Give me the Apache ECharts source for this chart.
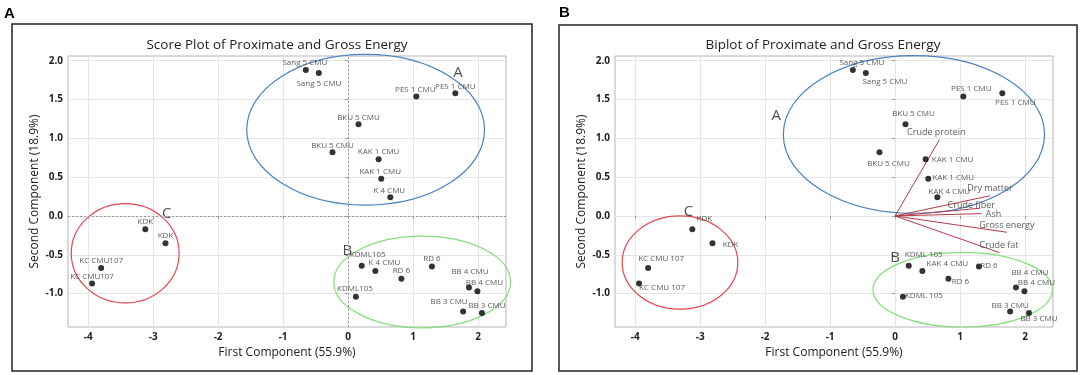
<!DOCTYPE html>
<html>
<head>
<meta charset="utf-8">
<script src="https://cdn.jsdelivr.net/npm/echarts@6/dist/echarts.min.js"></script>
<style>
  html, body { margin: 0; padding: 0; background: #fff; }
  #main { width: 1084px; height: 375px; }
</style>
</head>
<body>
<div id="main"></div>
<script>
// sample scores (same for both panels), names differ a little between A and B
var namesA = ['Sang 5 CMU', 'Sang 5 CMU', 'PES 1 CMU', 'PES 1 CMU', 'BKU 5 CMU', 'BKU 5 CMU', 'KAK 1 CMU', 'KAK 1 CMU', 'K 4 CMU',
    'KDK', 'KDK', 'KC CMU107', 'KC CMU107', 'KDML105', 'K 4 CMU', 'RD 6', 'RD 6', 'KDML105', 'BB 4 CMU', 'BB 4 CMU', 'BB 3 CMU', 'BB 3 CMU'];
var namesB = ['Sang 5 CMU', 'Sang 5 CMU', 'PES 1 CMU', 'PES 1 CMU', 'BKU 5 CMU', 'BKU 5 CMU', 'KAK 1 CMU', 'KAK 1 CMU', 'KAK 4 CMU',
    'KDK', 'KDK', 'KC CMU 107', 'KC CMU 107', 'KDML 105', 'KAK 4 CMU', 'RD 6', 'RD 6', 'KDML 105', 'BB 4 CMU', 'BB 4 CMU', 'BB 3 CMU', 'BB 3 CMU'];
var firstComp = [-0.65, -0.45, 1.05, 1.65, 0.16, -0.24, 0.47, 0.51, 0.65, -3.12, -2.81, -3.80, -3.94, 0.21, 0.42, 0.82, 1.29, 0.12, 1.86, 1.99, 1.77, 2.06];
var secondComp = [1.88, 1.84, 1.54, 1.58, 1.18, 0.82, 0.73, 0.48, 0.24, -0.17, -0.35, -0.67, -0.87, -0.64, -0.71, -0.81, -0.65, -1.04, -0.92, -0.97, -1.23, -1.25];

// loading vectors of the biplot
var varNames = ['Crude protein', 'Dry matter', 'Crude fiber', 'Ash', 'Gross energy', 'Crude fat'];
var loadX = [0.68, 1.46, 1.31, 1.33, 1.72, 1.60];
var loadY = [0.98, 0.26, 0.10, 0.03, -0.21, -0.47];

// group ellipses (centre and half axes, data units)
var groupNames = ['A', 'B', 'C'];
var ellCxA = [0.27, 1.14, -3.43], ellCyA = [1.11, -0.85, -0.48], ellRxA = [1.83, 1.36, 0.83], ellRyA = [0.97, 0.59, 0.64];
var ellCxB = [0.29, 1.04, -3.31], ellCyB = [1.05, -0.95, -0.60], ellRxB = [2.01, 1.38, 0.89], ellRyB = [1.015, 0.48, 0.60];
var groupXA = [1.69, -0.01, -2.79], groupYA = [1.85, -0.45, 0.03];
var groupXB = [-1.83, 0.0, -3.18], groupYB = [1.29, -0.54, 0.06];

// tick values
var xTicks = [-4, -3, -2, -1, 0, 1, 2];
var yTicks = [-1, -0.5, 0, 0.5, 1, 1.5, 2];

// label offsets in px (style only)
var labelOffA = [[-1, -7], [0, 11], [-1, -7], [0, -7], [0, -7], [0, -7], [0, -8], [-1, -7], [-1, -7], [0, -7], [0, -7], [0, -7], [0, -7],
    [6, -11], [9, -8], [0, -8], [0, -8], [-1, -8], [1, -16], [7, -9], [-14, -10], [5, -7]];
var labelOffB = [[9, -7], [19, 9], [8, -8], [13, 9], [8, -11], [9, 11], [27, 0], [25, -1], [12, -6], [12, -10], [18, 2], [13, -9], [23, 4],
    [15, -11], [25, -7], [12, 3], [10, -1], [21, -1], [14, -15], [12, -9], [0, -6], [10, 6]];
var labelOffVec = [[-3, -7], [0, -7], [-9, -3], [12, 1], [0, -7], [0, -7]];

var ellColors = ['#4a80c4', '#86dd7f', '#e2474d'];
var fontFam = '"Open Sans", "Noto Sans", sans-serif';
var symSize = 6;

function pointData(names, offs) {
    return firstComp.map(function (x, i) {
        return {
            value: [x, secondComp[i]],
            name: names[i],
            label: { position: [symSize / 2 + offs[i][0], symSize / 2 + offs[i][1]] }
        };
    });
}

function ellipseData(cx, cy, rx, ry) {
    return cx.map(function (c, i) { return [c, cy[i], rx[i], ry[i]]; });
}

function renderEllipse(params, api) {
    var c = api.coord([api.value(0), api.value(1)]);
    var s = api.size([api.value(2), api.value(3)]);
    return {
        type: 'ellipse',
        shape: { cx: c[0], cy: c[1], rx: s[0], ry: s[1] },
        style: { fill: null, stroke: ellColors[params.dataIndex], lineWidth: 1.2 },
        silent: true
    };
}

function renderVector(params, api) {
    var o = api.coord([0, 0]);
    var e = api.coord([api.value(0), api.value(1)]);
    return {
        type: 'line',
        shape: { x1: o[0], y1: o[1], x2: e[0], y2: e[1] },
        style: { stroke: '#b23b4a', lineWidth: 1 },
        silent: true
    };
}

function xAxisOf(idx) {
    return {
        gridIndex: idx, type: 'value', min: -4.31, max: 2.43,
        name: 'First Component (55.9%)', nameLocation: 'middle', nameGap: 19,
        nameTextStyle: { fontSize: 12, color: '#222', fontFamily: fontFam },
        axisLine: { show: false },
        axisTick: { show: true, customValues: xTicks, length: 3, lineStyle: { color: '#999' } },
        axisLabel: { customValues: xTicks, fontSize: 10, fontWeight: 'bold', color: '#222', margin: 5, fontFamily: fontFam },
        splitLine: { show: true, lineStyle: { color: '#e6e6e6' } }
    };
}

function yAxisOf(idx) {
    return {
        gridIndex: idx, type: 'value', min: -1.43, max: 2.06,
        name: 'Second Component (18.9%)', nameLocation: 'middle', nameGap: 27,
        nameTextStyle: { fontSize: 12, color: '#222', fontFamily: fontFam },
        axisLine: { show: false },
        axisTick: { show: true, customValues: yTicks, length: 3, lineStyle: { color: '#999' } },
        axisLabel: {
            customValues: yTicks, fontSize: 10, fontWeight: 'bold', color: '#222', margin: 5, fontFamily: fontFam,
            formatter: function (v) { return v.toFixed(1); }
        },
        splitLine: { show: true, lineStyle: { color: '#e6e6e6' } }
    };
}

function letterSeries(idx, gx, gy) {
    return {
        type: 'scatter', xAxisIndex: idx, yAxisIndex: idx, symbolSize: 0, silent: true, z: 4,
        data: gx.map(function (x, i) { return { value: [x, gy[i]], name: groupNames[i] }; }),
        label: { show: true, position: 'inside', formatter: '{b}', fontSize: 15, color: '#222', fontFamily: fontFam }
    };
}

function pointSeries(idx, names, offs, extra) {
    var s = {
        type: 'scatter', xAxisIndex: idx, yAxisIndex: idx, symbol: 'circle', symbolSize: symSize, z: 5,
        itemStyle: { color: '#000' },
        data: pointData(names, offs),
        label: { show: true, formatter: '{b}', align: 'center', verticalAlign: 'middle', fontSize: 8, color: '#333', fontFamily: fontFam }
    };
    if (extra) {
        s.markLine = extra;
    }
    return s;
}

var myChart = echarts.init(document.getElementById('main'));
var option = {
    animation: false,
    backgroundColor: '#fff',
    title: [
        { text: 'Score Plot of Proximate and Gross Energy', left: 272, top: 33, textAlign: 'center',
            textStyle: { fontSize: 13.5, fontWeight: 'normal', color: '#222', fontFamily: fontFam } },
        { text: 'Biplot of Proximate and Gross Energy', left: 818, top: 33, textAlign: 'center',
            textStyle: { fontSize: 13.5, fontWeight: 'normal', color: '#222', fontFamily: fontFam } }
    ],
    graphic: [
        { type: 'rect', shape: { x: 12, y: 24, width: 520, height: 347 }, style: { fill: 'none', stroke: '#222', lineWidth: 1.5 } },
        { type: 'rect', shape: { x: 559, y: 25, width: 518, height: 346 }, style: { fill: 'none', stroke: '#222', lineWidth: 1.5 } },
        { type: 'text', left: 4, top: 6, style: { text: 'A', fontSize: 15, fontWeight: 'bold', fill: '#000', fontFamily: 'Liberation Sans, Arial' } },
        { type: 'text', left: 559, top: 5, style: { text: 'B', fontSize: 15, fontWeight: 'bold', fill: '#000', fontFamily: 'Liberation Sans, Arial' } }
    ],
    grid: [
        { left: 68, top: 56, width: 438, height: 271, show: true, borderColor: '#b5b5b5', borderWidth: 1 },
        { left: 615, top: 56, width: 438, height: 271, show: true, borderColor: '#b5b5b5', borderWidth: 1 }
    ],
    xAxis: [xAxisOf(0), xAxisOf(1)],
    yAxis: [yAxisOf(0), yAxisOf(1)],
    series: [
        // panel A
        {
            type: 'custom', xAxisIndex: 0, yAxisIndex: 0, z: 3,
            renderItem: renderEllipse,
            data: ellipseData(ellCxA, ellCyA, ellRxA, ellRyA)
        },
        pointSeries(0, namesA, labelOffA, {
            silent: true, symbol: 'none', label: { show: false },
            lineStyle: { color: '#9a9a9a', type: [2, 2], width: 1 },
            data: [{ xAxis: 0 }, { yAxis: 0 }]
        }),
        letterSeries(0, groupXA, groupYA),
        // panel B
        {
            type: 'custom', xAxisIndex: 1, yAxisIndex: 1, z: 3,
            renderItem: renderEllipse,
            data: ellipseData(ellCxB, ellCyB, ellRxB, ellRyB)
        },
        {
            type: 'custom', xAxisIndex: 1, yAxisIndex: 1, z: 3,
            renderItem: renderVector,
            data: loadX.map(function (x, i) { return [x, loadY[i]]; })
        },
        {
            type: 'scatter', xAxisIndex: 1, yAxisIndex: 1, symbolSize: 0, silent: true, z: 4,
            data: loadX.map(function (x, i) {
                return { value: [x, loadY[i]], name: varNames[i], label: { position: [labelOffVec[i][0], labelOffVec[i][1]] } };
            }),
            label: { show: true, formatter: '{b}', align: 'center', verticalAlign: 'middle', fontSize: 9, color: '#333', fontFamily: fontFam }
        },
        pointSeries(1, namesB, labelOffB),
        letterSeries(1, groupXB, groupYB)
    ]
};
myChart.setOption(option);
</script>
</body>
</html>
